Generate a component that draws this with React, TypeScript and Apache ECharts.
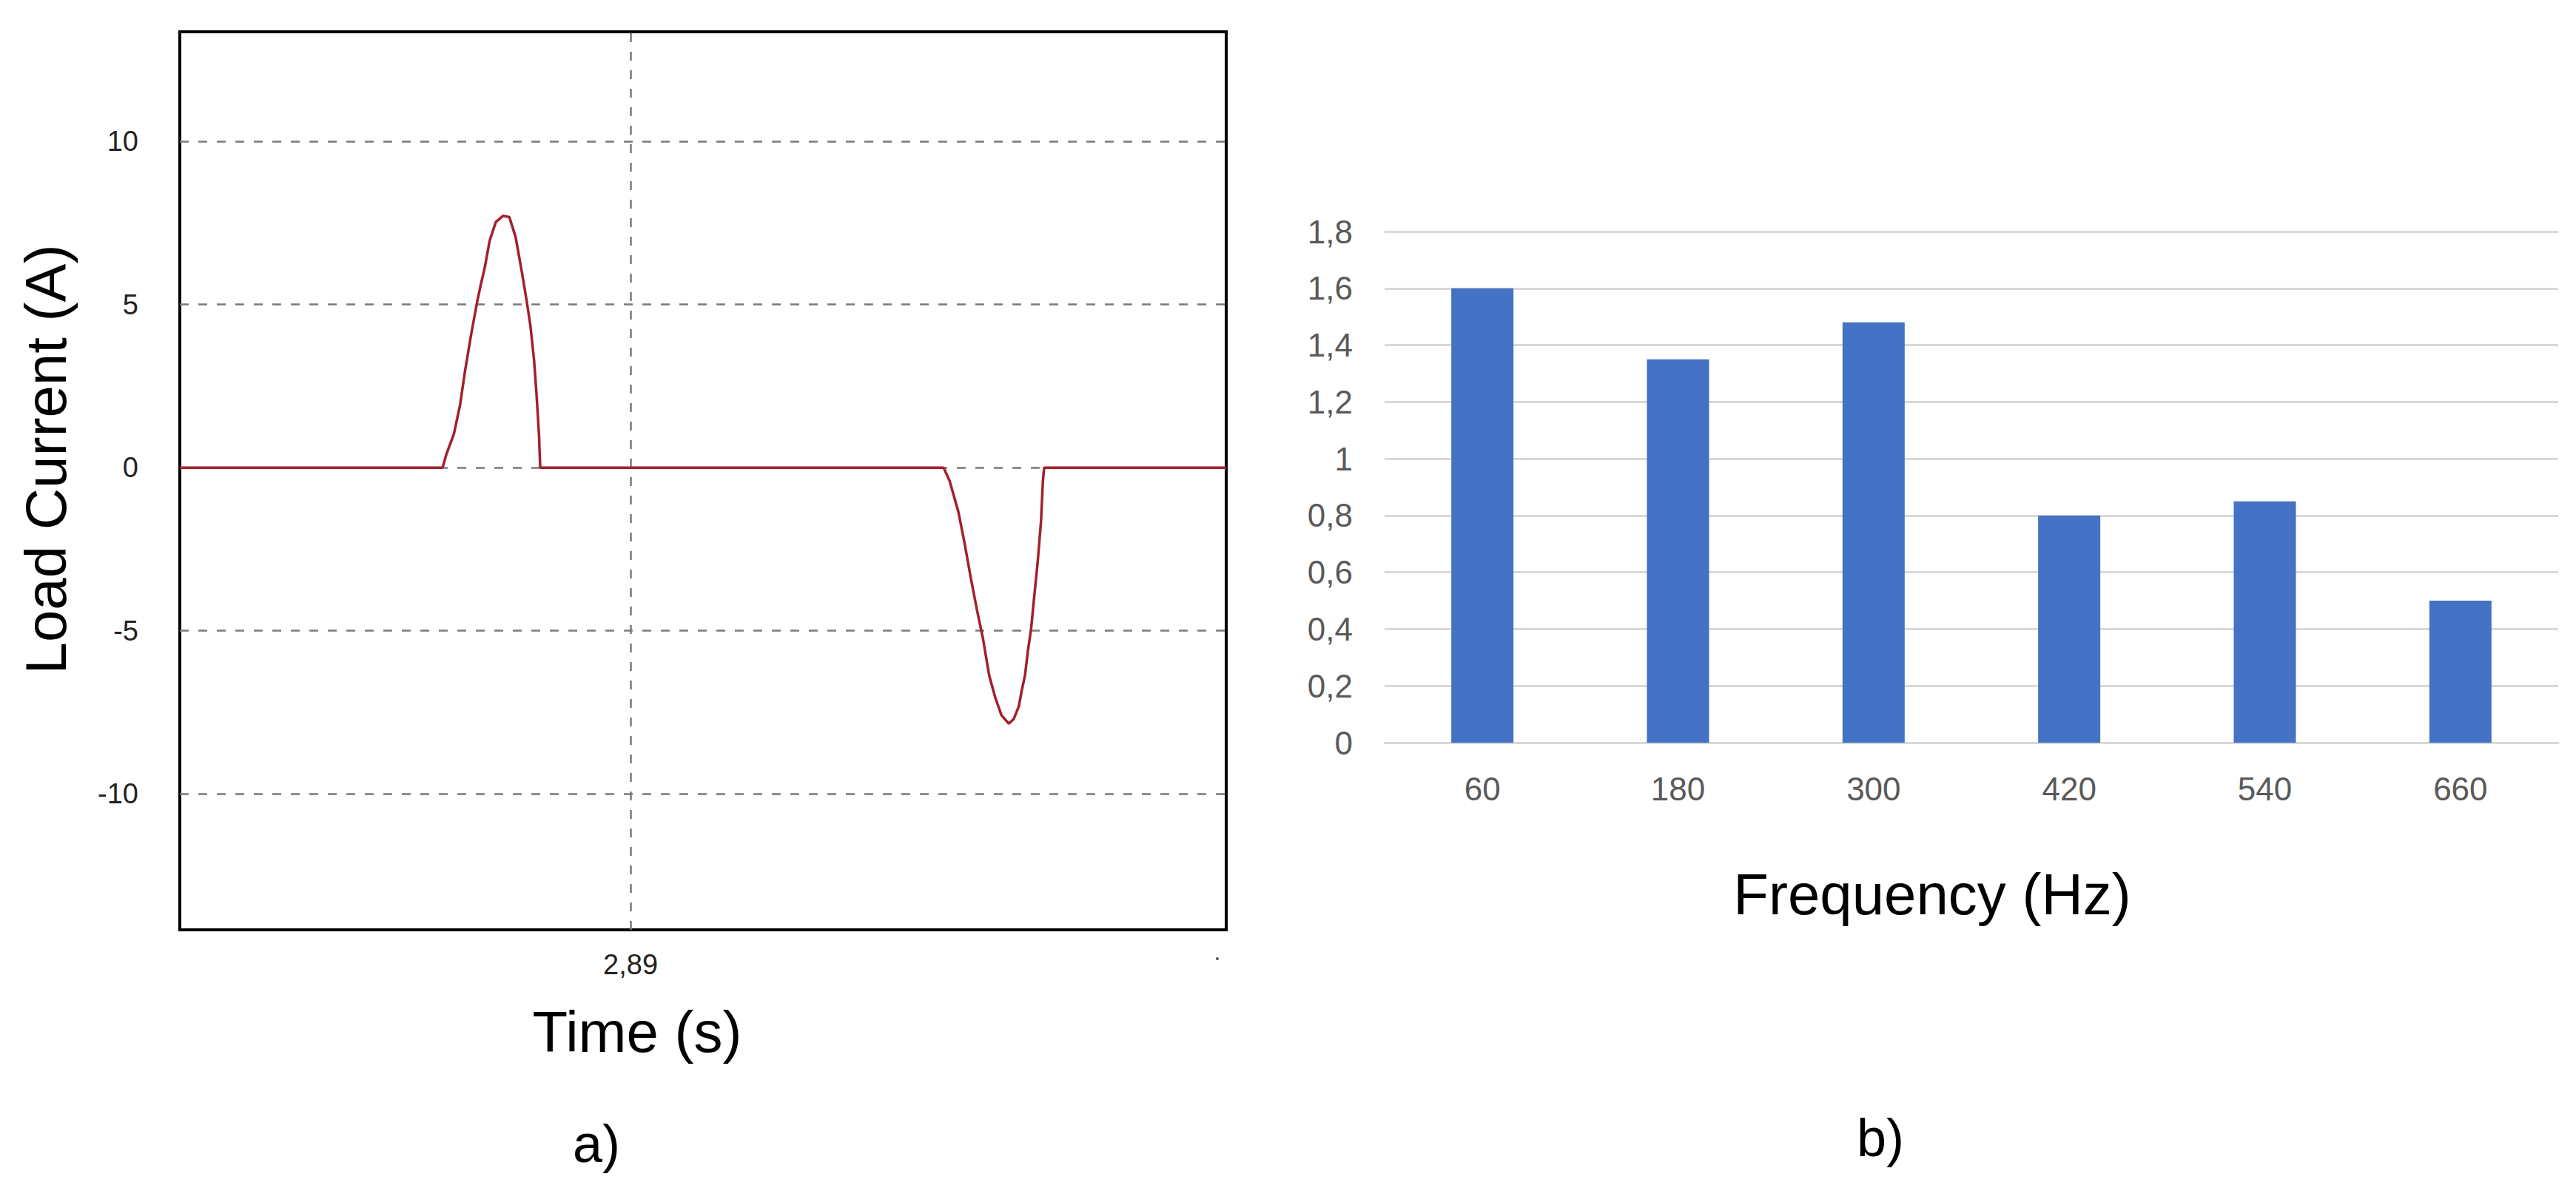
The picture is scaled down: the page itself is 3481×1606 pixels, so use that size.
import React, { useEffect, useRef } from "react";
import * as echarts from "echarts";

// ---- Data: (a) load current waveform ----
const timeRangeS = [2.882518, 2.899889];
const timeS = [
  2.882518,
  2.88688, 2.886945, 2.887068, 2.887171, 2.887252, 2.887355, 2.887457, 2.887518, 2.88758,
  2.887662, 2.887764, 2.887887, 2.887989, 2.888092, 2.888194, 2.888276, 2.888338, 2.888399,
  2.88844, 2.88848, 2.888501,
  2.895197, 2.895298, 2.895442, 2.895544, 2.895647, 2.895749, 2.895851, 2.895955, 2.896057,
  2.896158, 2.896281, 2.896364, 2.896446, 2.896495, 2.896548, 2.896597, 2.89665, 2.896704,
  2.896757, 2.896814, 2.896846, 2.896867,
  2.899889,
];
const currentA = [
  0,
  0, 0.42, 1.03, 1.93, 2.95, 4.09, 5.11, 5.64, 6.13,
  6.96, 7.53, 7.72, 7.68, 7.07, 6.02, 5.11, 4.35, 3.29,
  2.24, 1.03, 0,
  0, -0.41, -1.35, -2.3, -3.36, -4.34, -5.24, -6.38, -7.06,
  -7.59, -7.85, -7.7, -7.32, -6.83, -6.38, -5.62, -4.94, -3.92,
  -2.94, -1.66, -0.41, 0,
  0,
];
const currentRangeA = [-14.17, 13.36];
const currentTicks = [-10, -5, 0, 5, 10];
const timeTicks = [2.89];

// ---- Data: (b) harmonic spectrum ----
const freqCategories = ["60", "180", "300", "420", "540", "660"];
const harmonicValues = [1.6, 1.35, 1.48, 0.8, 0.85, 0.5];

const FONT = "'Liberation Sans', Arial, sans-serif";

export default function App() {
  const ref = useRef<HTMLDivElement>(null);

  useEffect(() => {
    if (!ref.current) return;
    const chart = echarts.init(ref.current, null, { renderer: "svg" });
    const waveform = timeS.map((t, i) => [t, currentA[i]]);
    const dash = { type: [12, 13], color: "#7a7a7a", width: 2.5 };

    const option: any = {
      animation: false,
      backgroundColor: "#ffffff",
      grid: [
        {
          left: 243, top: 43, width: 1414, height: 1214,
          show: true, borderColor: "#000000", borderWidth: 4,
          backgroundColor: "transparent",
        },
        { left: 1871, top: 313, width: 1586, height: 691 },
      ],
      xAxis: [
        {
          type: "value", gridIndex: 0,
          min: timeRangeS[0], max: timeRangeS[1],
          axisLine: { show: false }, axisTick: { show: false }, splitLine: { show: false },
          axisLabel: {
            customValues: timeTicks,
            formatter: (v: number) => v.toFixed(2).replace(".", ","),
            fontSize: 38, color: "#222222", margin: 28, fontFamily: FONT,
          },
        },
        {
          type: "category", gridIndex: 1, data: freqCategories,
          axisLine: { show: true, lineStyle: { color: "#d9d9d9", width: 3 } },
          axisTick: { show: false },
          axisLabel: { fontSize: 44, color: "#595959", margin: 40, fontFamily: FONT },
        },
      ],
      yAxis: [
        {
          type: "value", gridIndex: 0,
          min: currentRangeA[0], max: currentRangeA[1],
          axisLine: { show: false }, axisTick: { show: false }, splitLine: { show: false },
          axisLabel: {
            customValues: currentTicks,
            formatter: (v: number) => String(v),
            fontSize: 38, color: "#222222", margin: 56, fontFamily: FONT,
          },
        },
        {
          type: "value", gridIndex: 1, min: 0, max: 1.8, interval: 0.2,
          axisLine: { show: false }, axisTick: { show: false },
          splitLine: { show: true, lineStyle: { color: "#d9d9d9", width: 3 } },
          axisLabel: {
            formatter: (v: number) => String(Math.round(v * 10) / 10).replace(".", ","),
            fontSize: 44, color: "#595959", margin: 43, fontFamily: FONT,
          },
        },
      ],
      series: [
        {
          type: "line", xAxisIndex: 0, yAxisIndex: 0, z: 3,
          data: waveform, showSymbol: false, symbol: "none",
          lineStyle: { color: "#a3202b", width: 3.5 },
          itemStyle: { color: "#a3202b" },
          markLine: {
            z: 1, silent: true, symbol: "none", animation: false,
            label: { show: false },
            lineStyle: dash,
            data: [
              ...currentTicks.map((v) => ({ yAxis: v })),
              ...timeTicks.map((v) => ({ xAxis: v })),
            ],
          },
        },
        {
          type: "bar", xAxisIndex: 1, yAxisIndex: 1,
          data: harmonicValues, barWidth: 84,
          itemStyle: { color: "#4472c4" },
        },
      ],
      graphic: [
        {
          type: "text", x: 62, y: 621, rotation: Math.PI / 2,
          style: { text: "Load Current (A)", font: `78px ${FONT}`, fill: "#000", align: "center", verticalAlign: "middle" },
        },
        {
          type: "text", x: 861, y: 1395,
          style: { text: "Time (s)", font: `78px ${FONT}`, fill: "#000", align: "center", verticalAlign: "middle" },
        },
        {
          type: "text", x: 806, y: 1546,
          style: { text: "a)", font: `72px ${FONT}`, fill: "#000", align: "center", verticalAlign: "middle" },
        },
        {
          type: "text", x: 2611, y: 1209,
          style: { text: "Frequency (Hz)", font: `78px ${FONT}`, fill: "#000", align: "center", verticalAlign: "middle" },
        },
        {
          type: "text", x: 2541, y: 1538,
          style: { text: "b)", font: `72px ${FONT}`, fill: "#000", align: "center", verticalAlign: "middle" },
        },
        { type: "circle", shape: { cx: 1645, cy: 1296, r: 2 }, style: { fill: "#555" } },
      ],
    };

    chart.setOption(option);
    return () => chart.dispose();
  }, []);

  return (
    <div
      ref={ref}
      style={{ position: "fixed", left: 0, top: 0, width: 3481, height: 1606, background: "#fff" }}
    />
  );
}
